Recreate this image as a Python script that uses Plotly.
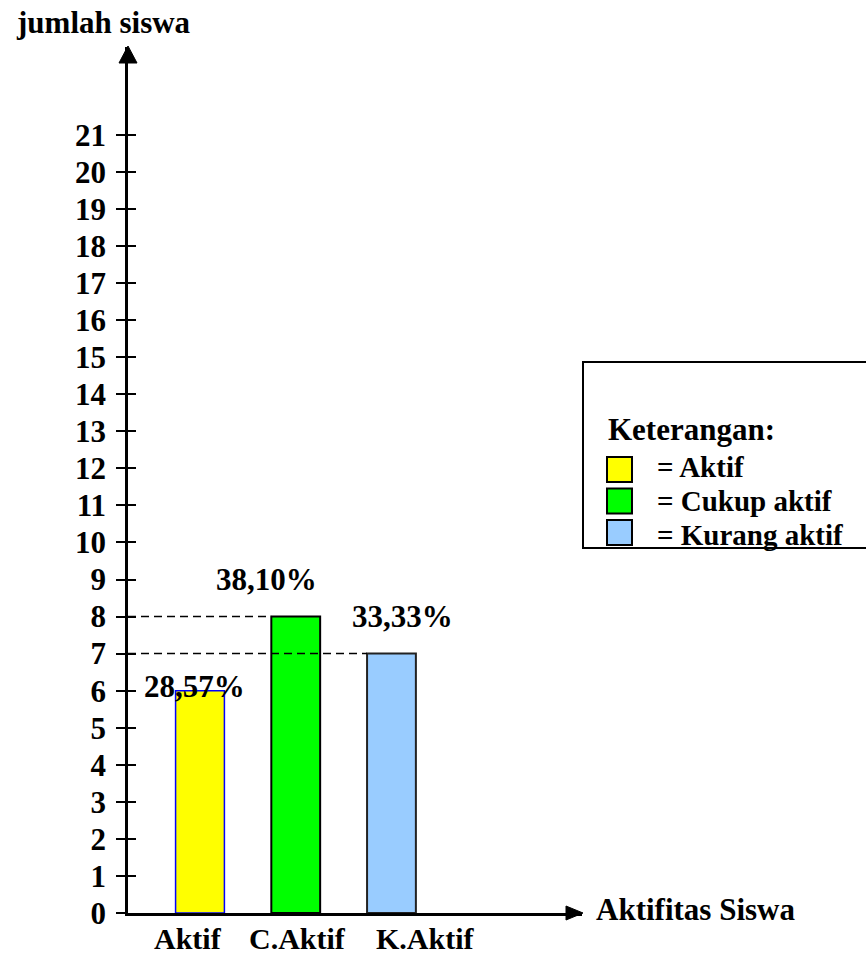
import plotly.graph_objects as go

# ---------------- data ----------------
categories = ["Aktif", "C.Aktif", "K.Aktif"]
values = [6, 8, 7]
percent_labels = ["28,57%", "38,10%", "33,33%"]
legend_labels = ["Aktif", "Cukup aktif", "Kurang aktif"]
y_ticks = list(range(0, 22))
y_title = "jumlah siswa"
x_title = "Aktifitas Siswa"
legend_title = "Keterangan:"

# ---------------- styles ----------------
fill_colors = ["#FFFF00", "#00FF00", "#99CCFF"]
edge_colors = ["#0000FF", "#000000", "#222222"]
edge_widths = [1.5, 2, 2]
pct_shift = [(-6, 4), (-29, 37), (11, 37)]      # label offsets in px
cat_shift = [-12, 2, 34]
FONT = dict(family="Liberation Serif, Times New Roman, serif", size=31, color="black", weight="bold")
FONT_CAT = dict(FONT, size=30)
FONT_LEG = dict(FONT, size=29)

W, H = 866, 956
L, R, T, B = 128, 284, 47, 43
PW, PH = W - L - R, H - T - B
xpos = [1, 2, 3]
bar_w = 0.51
x_range = [0.248, 4.99]
y_range = [0, 23.37]


def px(x):
    return (x - L) / PW


def py(y):
    return (H - B - y) / PH


fig = go.Figure()
fig.add_trace(go.Bar(
    x=xpos, y=values, width=bar_w,
    marker=dict(color=fill_colors, line=dict(color=edge_colors, width=edge_widths)),
    showlegend=False, hoverinfo="skip",
))
# helper trace for the inner tick marks
fig.add_trace(go.Scatter(x=[xpos[0]], y=[0], yaxis="y2", mode="markers",
                         marker=dict(opacity=0), showlegend=False, hoverinfo="skip"))

shapes = []
annotations = []

# dashed guide lines from the axis to the green and blue bars
for i in (1, 2):
    shapes.append(dict(type="line", xref="x", yref="y",
                       x0=x_range[0], x1=xpos[i] - bar_w / 2,
                       y0=values[i], y1=values[i],
                       line=dict(color="black", width=1.5, dash="8px,5px"),
                       layer="above"))

# percentage labels
for i, t in enumerate(percent_labels):
    annotations.append(dict(x=xpos[i], y=values[i], xref="x", yref="y", text=t,
                            showarrow=False, xanchor="center", yanchor="middle",
                            xshift=pct_shift[i][0], yshift=pct_shift[i][1], font=FONT))

# category labels
for i, c in enumerate(categories):
    annotations.append(dict(x=xpos[i], y=0, xref="x", yref="paper", text=c,
                            showarrow=False, xanchor="center", yanchor="middle",
                            xshift=cat_shift[i], yshift=-25, font=FONT_CAT))

# arrowheads
shapes.append(dict(type="path", xref="paper", yref="paper",
                   path=f"M {px(128)} {py(46)} L {px(119)} {py(63)} L {px(137)} {py(63)} Z",
                   fillcolor="black", line=dict(color="black", width=1)))
shapes.append(dict(type="path", xref="paper", yref="paper",
                   path=f"M {px(583)} {py(913)} L {px(566)} {py(906)} L {px(566)} {py(920)} Z",
                   fillcolor="black", line=dict(color="black", width=1)))

# axis titles
annotations.append(dict(x=px(103), y=py(23), xref="paper", yref="paper", text=y_title,
                        showarrow=False, xanchor="center", yanchor="middle", font=FONT))
annotations.append(dict(x=px(594), y=py(909), xref="paper", yref="paper", text=x_title,
                        showarrow=False, xanchor="left", yanchor="middle", font=FONT))

# legend box
shapes.append(dict(type="rect", xref="paper", yref="paper",
                   x0=px(583), x1=px(880), y0=py(362), y1=py(548),
                   line=dict(color="black", width=2), fillcolor="rgba(0,0,0,0)"))
annotations.append(dict(x=px(606), y=py(429), xref="paper", yref="paper", text=legend_title,
                        showarrow=False, xanchor="left", yanchor="middle", font=FONT))
for i, lab in enumerate(legend_labels):
    top = 457 + i * 31.5
    shapes.append(dict(type="rect", xref="paper", yref="paper",
                       x0=px(607), x1=px(632), y0=py(top), y1=py(top + 25),
                       fillcolor=fill_colors[i], line=dict(color="black", width=2)))
    annotations.append(dict(x=px(655), y=py(467 + i * 34), xref="paper", yref="paper",
                            text="= " + lab, showarrow=False, xanchor="left",
                            yanchor="middle", font=FONT_LEG))

fig.update_layout(
    width=W, height=H,
    margin=dict(l=L, r=R, t=T, b=B, pad=0),
    paper_bgcolor="white", plot_bgcolor="white",
    showlegend=False,
    xaxis=dict(range=x_range, showline=True, linecolor="black", linewidth=2.5,
               showticklabels=False, ticks="", showgrid=False, zeroline=False, fixedrange=True),
    yaxis=dict(range=y_range, tickvals=y_ticks, ticktext=[str(v) for v in y_ticks],
               showline=True, linecolor="black", linewidth=2.5,
               ticks="outside", ticklen=9, tickwidth=2, tickcolor="black",
               ticklabelstandoff=4,
               tickfont=FONT, showgrid=False, zeroline=False, fixedrange=True),
    yaxis2=dict(range=y_range, overlaying="y", side="left", anchor="x",
                tickvals=y_ticks, ticks="inside", ticklen=8, tickwidth=2, tickcolor="black",
                showticklabels=False, showline=False, showgrid=False, zeroline=False,
                fixedrange=True),
    shapes=shapes,
    annotations=annotations,
)

fig.write_html("out.html")
